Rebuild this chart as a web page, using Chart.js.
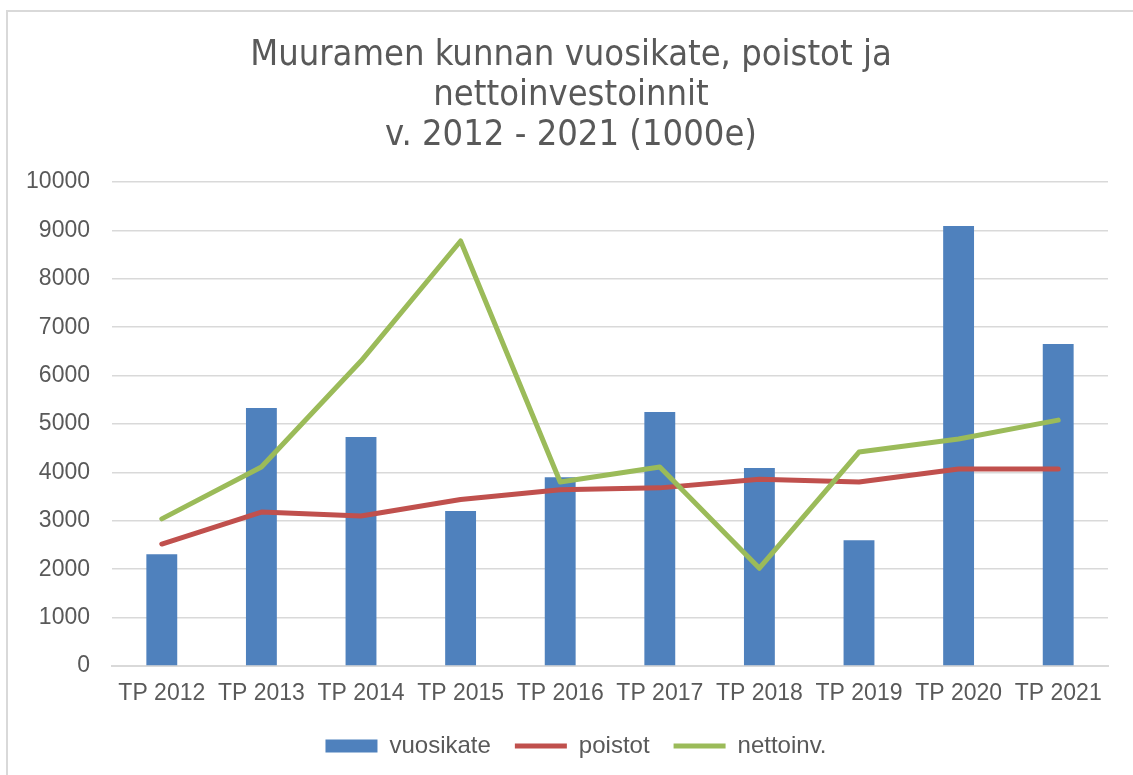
<!DOCTYPE html>
<html>
<head>
<meta charset="utf-8">
<script src="https://cdn.jsdelivr.net/npm/chart.js@4/dist/chart.umd.min.js"></script>
<style>
  html, body { margin: 0; padding: 0; background: #fff; overflow: hidden; }
  #wrap { position: relative; width: 1133px; height: 775px; }
  #frame { position: absolute; left: 6px; top: 10px; width: 1140px; height: 800px; border: 2px solid #d9d9d9; box-sizing: border-box; }
  #chart { position: absolute; left: 0; top: 0; }
</style>
</head>
<body>
<div id="wrap">
  <div id="frame"></div>
  <canvas id="chart" width="1133" height="775"></canvas>
</div>
<script>
// data
const categories = ["TP 2012", "TP 2013", "TP 2014", "TP 2015", "TP 2016", "TP 2017", "TP 2018", "TP 2019", "TP 2020", "TP 2021"];
const vuosikate = [2310, 5330, 4730, 3200, 3900, 5250, 4090, 2600, 9090, 6650];
const poistot = [2520, 3180, 3100, 3440, 3640, 3680, 3860, 3800, 4070, 4070];
const nettoinv = [3040, 4110, 6300, 8780, 3800, 4110, 2020, 4420, 4690, 5080];
const titleLines = ["Muuramen kunnan vuosikate, poistot ja", "nettoinvestoinnit", "v. 2012 - 2021 (1000e)"];

Chart.defaults.font.family = "'Liberation Sans', Arial, sans-serif";
Chart.defaults.color = "#595959";

// title and legend sit a bit right of the centre in the original
function shiftBox(box, dx) {
    if (box) {
        box.left += dx;
        box.right += dx;
    }
}
const boxShift = {
    id: "boxShift",
    beforeDraw: function (chart) {
        shiftBox(chart.legend, 22);
        shiftBox(chart.titleBlock, 17);
    },
    afterDraw: function (chart) {
        shiftBox(chart.legend, -22);
        shiftBox(chart.titleBlock, -17);
    }
};

const ctx = document.getElementById("chart").getContext("2d");
new Chart(ctx, {
    type: "bar",
    data: {
        labels: categories,
        datasets: [
            {
                type: "line",
                label: "nettoinv.",
                data: nettoinv,
                borderColor: "#9bbb59",
                backgroundColor: "#9bbb59",
                borderWidth: 5,
                borderCapStyle: "round",
                borderJoinStyle: "round",
                pointRadius: 0,
                pointStyle: "line",
                tension: 0,
                order: 1
            },
            {
                type: "line",
                label: "poistot",
                data: poistot,
                borderColor: "#c0504d",
                backgroundColor: "#c0504d",
                borderWidth: 5,
                borderCapStyle: "round",
                borderJoinStyle: "round",
                pointRadius: 0,
                pointStyle: "line",
                tension: 0,
                order: 2
            },
            {
                label: "vuosikate",
                data: vuosikate,
                backgroundColor: "#4f81bd",
                borderWidth: 0,
                barPercentage: 0.31,
                categoryPercentage: 1,
                order: 3
            }
        ]
    },
    plugins: [boxShift],
    options: {
        responsive: false,
        animation: false,
        layout: { padding: { top: 35, right: 25, bottom: 7, left: 0 } },
        plugins: {
            title: {
                display: true,
                text: titleLines,
                color: "#595959",
                font: { family: "'DejaVu Sans Condensed', 'DejaVu Sans', sans-serif", size: 36, weight: "normal", lineHeight: 1.12 },
                padding: { top: 0, bottom: 26 }
            },
            legend: {
                position: "bottom",
                labels: {
                    usePointStyle: true,
                    pointStyleWidth: 52,
                    boxHeight: 13,
                    padding: 24,
                    color: "#595959",
                    font: { size: 24 },
                    generateLabels: function (chart) {
                        const items = Chart.defaults.plugins.legend.labels.generateLabels(chart);
                        items.forEach(function (it) {
                            const ds = chart.data.datasets[it.datasetIndex];
                            if (ds.type === "line") {
                                it.pointStyle = "line";
                                it.lineWidth = 5;
                                it.strokeStyle = ds.borderColor;
                            } else {
                                it.pointStyle = "rect";
                                it.lineWidth = 0;
                                it.fillStyle = ds.backgroundColor;
                            }
                        });
                        // legend order: vuosikate, poistot, nettoinv.
                        return items.reverse();
                    }
                }
            },
            tooltip: { enabled: false }
        },
        scales: {
            x: {
                grid: { display: false },
                border: { display: true, color: "#d9d9d9", width: 2 },
                ticks: { padding: 6, font: { size: 23 }, color: "#595959", maxRotation: 0, autoSkip: false },
                afterFit: function (scale) { scale.height = 44; }
            },
            y: {
                min: 0,
                max: 10000,
                grid: { color: "#d9d9d9", lineWidth: 1.5, drawTicks: false },
                border: { display: false },
                ticks: {
                    stepSize: 1000,
                    padding: 22,
                    font: { size: 23 },
                    color: "#595959",
                    callback: function (v) { return String(v); }
                },
                afterFit: function (scale) { scale.width = 112; }
            }
        }
    }
});
</script>
</body>
</html>
